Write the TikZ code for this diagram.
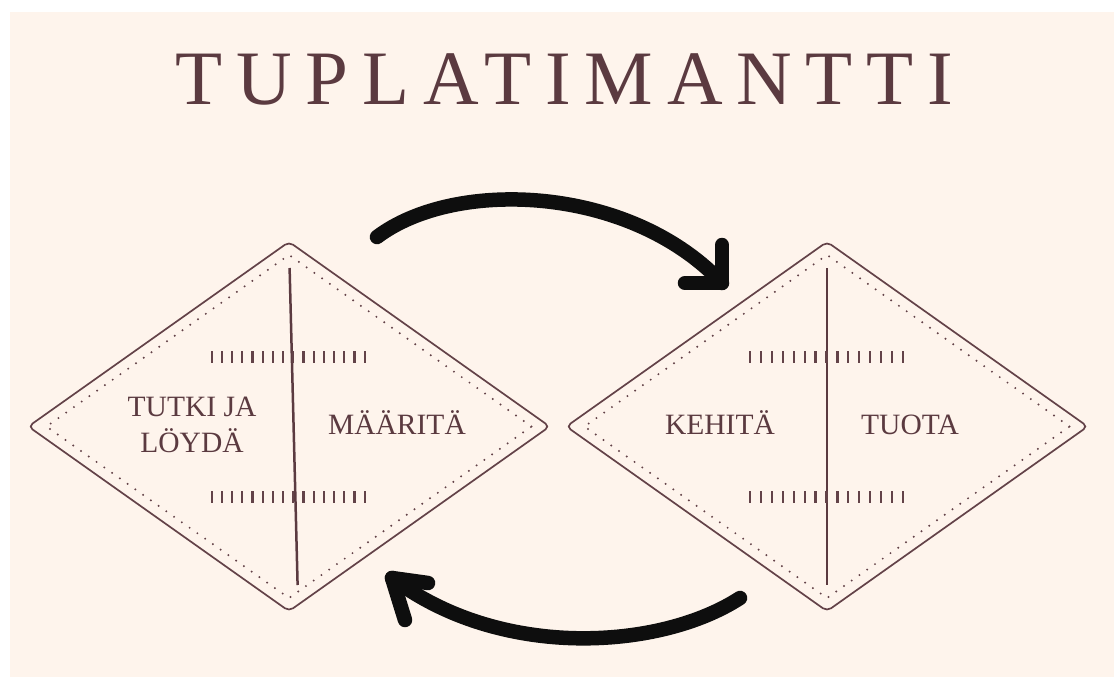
\documentclass[tikz,border=0pt]{standalone}
\usepackage{fontspec}
\setmainfont{Liberation Serif}
\newfontfamily\titlefont[LetterSpace=18]{Liberation Serif}
\usetikzlibrary{shapes.geometric}
\definecolor{cream}{HTML}{FEF4EC}
\definecolor{brown}{HTML}{5B3A40}
\definecolor{lineb}{HTML}{634248}
\definecolor{arrowc}{HTML}{0E0E0E}
\begin{document}
\begin{tikzpicture}[x=1pt,y=-1pt,
  titlestyle/.style={inner sep=0pt, text=brown, font=\titlefont\fontsize{77}{80}\selectfont},
  lbl/.style={inner sep=0pt, text=brown, font=\fontsize{29.5}{36}\selectfont, align=center},
  dia/.style={diamond, draw=lineb, line width=1.7pt, rounded corners=5pt, inner sep=0pt,
     minimum width=522pt, minimum height=370pt},
  diadot/.style={diamond, draw=lineb, line width=2.2pt, line cap=round, dash pattern=on 0pt off 9.5pt,
     inner sep=0pt, minimum width=486pt, minimum height=344pt},
  divider/.style={draw=brown, line width=2.5pt},
  tickmark/.style={draw=lineb, line width=2.2pt},
  bigarrow/.style={draw=arrowc, line width=14.5pt, line cap=round, line join=round}]
\useasboundingbox (0,0) rectangle (1114,677);
\fill[white] (0,0) rectangle (1114,677);
\fill[cream] (10,12) rectangle (1114,677);

\node[titlestyle] (title) at (564.5,79.5) {TUPLATIMANTTI};

% left diamond
\node[dia] (d1) at (289,426.5) {};
\node[diadot] (d1in) at (289,426.5) {};
\coordinate (v1t) at (289.6,268);
\coordinate (v1b) at (297.6,585);
\draw[divider] (v1t) -- (v1b);
\foreach \k in {0,...,15} {
  \draw[tickmark] (211.7+10.2*\k,351) -- ++(0,11.7);
  \draw[tickmark] (211.7+10.2*\k,491) -- ++(0,11.7);
}
\node[lbl] (tutki) at (192,425.3) {TUTKI JA\\LÖYDÄ};
\node[lbl, anchor=base] (maarita) at (397,434) {MÄÄRITÄ};

% right diamond
\node[dia] (d2) at (827,426.5) {};
\node[diadot] (d2in) at (827,426.5) {};
\coordinate (v2t) at (827,268);
\coordinate (v2b) at (827,585);
\draw[divider] (v2t) -- (v2b);
\foreach \k in {0,...,14} {
  \draw[tickmark] (750+10.93*\k,351) -- ++(0,11.7);
  \draw[tickmark] (750+10.93*\k,491) -- ++(0,11.7);
}
\node[lbl, anchor=base] (kehita) at (720,434) {KEHITÄ};
\node[lbl, anchor=base] (tuota) at (910,434) {TUOTA};

% arrows
\coordinate (a1s) at (377,237);
\coordinate (a1e) at (722,283);
\draw[bigarrow] (a1s) .. controls (455,178) and (630,185) .. (a1e);
\draw[bigarrow] ([shift={(0,-38)}]a1e) -- (a1e) -- ([shift={(-37,0)}]a1e);

\coordinate (a2s) at (740,598);
\coordinate (a2e) at (392,578);
\draw[bigarrow] (a2s) .. controls (660,650) and (500,660) .. (a2e);
\draw[bigarrow] ([shift={(36,5)}]a2e) -- (a2e) -- ([shift={(13,42)}]a2e);
\end{tikzpicture}
\end{document}
